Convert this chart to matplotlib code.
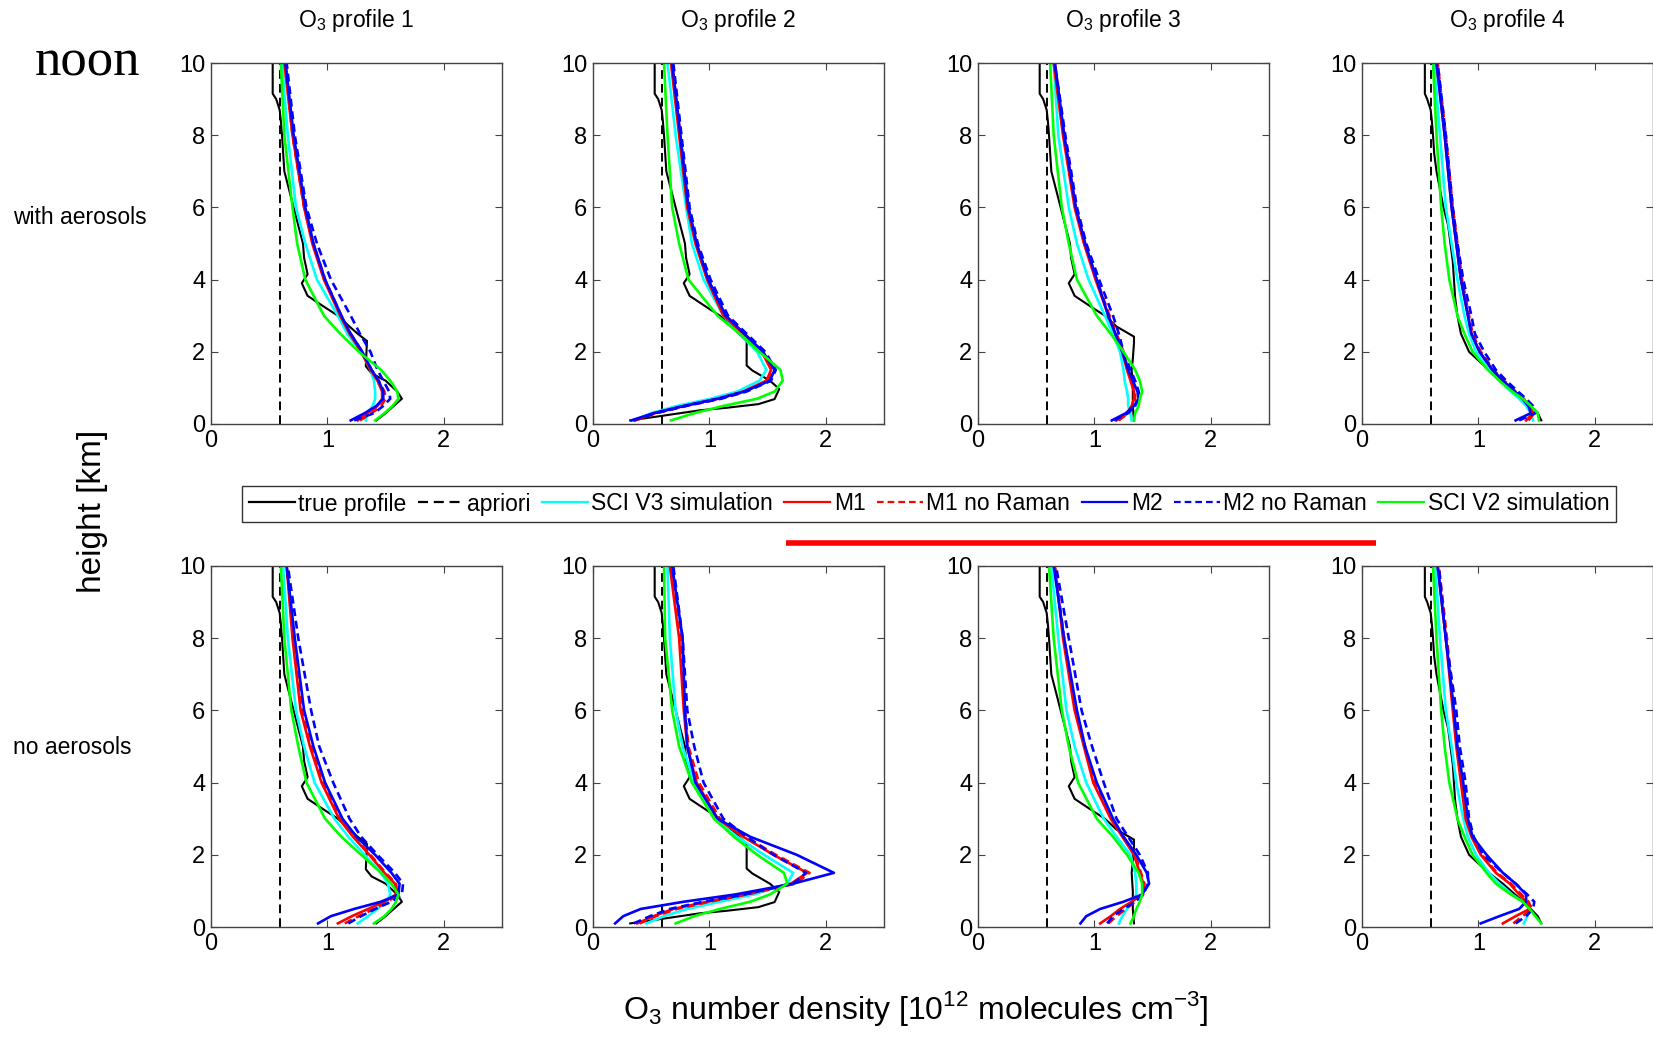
import matplotlib
matplotlib.use('Agg')
import matplotlib.pyplot as plt
from matplotlib.lines import Line2D

plt.rcParams['font.family'] = ['Liberation Sans', 'DejaVu Sans']
plt.rcParams['mathtext.fontset'] = 'custom'
plt.rcParams['mathtext.rm'] = 'Liberation Sans'

# height grid (km) for the retrieved profiles
hgt = [0.1, 0.3, 0.5, 0.7, 0.9, 1.2, 1.5, 2.0, 2.5, 3.0, 4.0, 5.0, 6.0, 8.0, 10.0]
apriori = 0.59
profiles = ['1', '2', '3', '4']
rows = ['with aerosols', 'no aerosols']

# true profiles, same for both rows
true_upper_h = [10.0, 9.15, 9.0, 8.7, 8.4, 8.0, 7.5, 7.0, 6.5, 6.0, 5.5, 5.0, 4.6, 4.15, 3.9, 3.55, 3.25, 3.0]
true_upper_x = [0.53, 0.53, 0.56, 0.59, 0.60, 0.61, 0.62, 0.63, 0.67, 0.71, 0.75, 0.79, 0.80, 0.83, 0.78, 0.83, 0.97, 1.09]
true_low_h = [
    [2.7, 2.5, 2.3, 1.6, 1.4, 1.2, 0.9, 0.7, 0.5, 0.3, 0.1],
    [2.7, 2.3, 1.62, 1.48, 1.2, 0.97, 0.69, 0.55, 0.45, 0.38, 0.22, 0.1],
    [2.7, 2.42, 2.24, 1.8, 1.5, 1.0, 0.5, 0.1],
]
true_low_x = [
    [1.19, 1.26, 1.34, 1.33, 1.38, 1.50, 1.60, 1.64, 1.57, 1.50, 1.42],
    [1.19, 1.32, 1.32, 1.37, 1.52, 1.60, 1.56, 1.42, 1.15, 0.92, 0.58, 0.32],
    [1.19, 1.34, 1.34, 1.33, 1.32, 1.33, 1.33, 1.34],
]
true4_h = [10.0, 9.15, 9.0, 8.7, 8.4, 8.0, 7.5, 7.0, 6.5, 6.0, 5.5, 5.0, 4.5, 4.0, 3.5, 3.0, 2.5, 2.0, 1.7, 1.5, 1.2, 0.8, 0.5, 0.3, 0.1]
true4_x = [0.54, 0.54, 0.56, 0.59, 0.60, 0.61, 0.62, 0.64, 0.67, 0.70, 0.74, 0.76, 0.78, 0.79, 0.80, 0.82, 0.85, 0.92, 1.02, 1.09, 1.21, 1.35, 1.45, 1.51, 1.54]

# with aerosols
sciv3_aer = [
    [1.33, 1.34, 1.39, 1.41, 1.41, 1.40, 1.37, 1.29, 1.17, 1.09, 0.91, 0.81, 0.73, 0.66, 0.61],
    [0.36, 0.50, 0.72, 1.01, 1.24, 1.43, 1.49, 1.41, 1.26, 1.12, 0.95, 0.85, 0.80, 0.71, 0.64],
    [1.32, 1.31, 1.29, 1.29, 1.28, 1.26, 1.25, 1.22, 1.16, 1.09, 0.95, 0.85, 0.78, 0.69, 0.65],
    [1.47, 1.45, 1.41, 1.35, 1.28, 1.18, 1.09, 0.98, 0.92, 0.88, 0.82, 0.77, 0.72, 0.67, 0.62],
]
m1_aer = [
    [1.26, 1.34, 1.43, 1.47, 1.47, 1.43, 1.37, 1.29, 1.19, 1.11, 0.97, 0.87, 0.80, 0.70, 0.63],
    [0.36, 0.53, 0.78, 1.07, 1.29, 1.49, 1.53, 1.45, 1.29, 1.12, 0.98, 0.88, 0.81, 0.74, 0.67],
    [1.19, 1.28, 1.32, 1.34, 1.34, 1.31, 1.28, 1.24, 1.18, 1.12, 1.01, 0.91, 0.83, 0.73, 0.65],
    [1.41, 1.47, 1.43, 1.38, 1.31, 1.21, 1.12, 1.01, 0.94, 0.91, 0.85, 0.81, 0.77, 0.71, 0.64],
]
m1nr_aer = [
    [1.28, 1.38, 1.46, 1.50, 1.49, 1.44, 1.38, 1.30, 1.20, 1.12, 0.98, 0.88, 0.80, 0.70, 0.64],
    [0.36, 0.54, 0.80, 1.09, 1.31, 1.50, 1.54, 1.46, 1.30, 1.14, 0.99, 0.89, 0.82, 0.75, 0.68],
    [1.21, 1.29, 1.33, 1.35, 1.35, 1.32, 1.29, 1.25, 1.19, 1.13, 1.02, 0.92, 0.84, 0.74, 0.66],
    [1.43, 1.48, 1.44, 1.39, 1.32, 1.22, 1.13, 1.02, 0.95, 0.92, 0.86, 0.82, 0.78, 0.72, 0.65],
]
m2_aer = [
    [1.20, 1.32, 1.42, 1.48, 1.48, 1.44, 1.38, 1.30, 1.20, 1.12, 0.98, 0.88, 0.81, 0.71, 0.64],
    [0.33, 0.52, 0.78, 1.07, 1.30, 1.52, 1.56, 1.46, 1.30, 1.14, 0.99, 0.89, 0.82, 0.75, 0.68],
    [1.15, 1.27, 1.34, 1.38, 1.37, 1.33, 1.29, 1.24, 1.18, 1.12, 1.02, 0.92, 0.84, 0.74, 0.66],
    [1.32, 1.45, 1.43, 1.38, 1.31, 1.21, 1.12, 1.01, 0.94, 0.91, 0.85, 0.81, 0.77, 0.71, 0.64],
]
m2nr_aer = [
    [1.23, 1.40, 1.48, 1.54, 1.53, 1.48, 1.43, 1.37, 1.28, 1.20, 1.03, 0.91, 0.82, 0.72, 0.65],
    [0.34, 0.54, 0.80, 1.10, 1.32, 1.53, 1.57, 1.48, 1.32, 1.16, 1.01, 0.90, 0.83, 0.76, 0.69],
    [1.17, 1.29, 1.35, 1.38, 1.38, 1.35, 1.31, 1.25, 1.21, 1.16, 1.04, 0.93, 0.85, 0.75, 0.66],
    [1.35, 1.49, 1.47, 1.41, 1.34, 1.24, 1.15, 1.05, 0.97, 0.94, 0.87, 0.82, 0.78, 0.72, 0.65],
]
sciv2_aer = [
    [1.41, 1.49, 1.56, 1.61, 1.60, 1.54, 1.46, 1.27, 1.11, 0.97, 0.81, 0.74, 0.70, 0.63, 0.60],
    [0.67, 0.87, 1.12, 1.41, 1.56, 1.63, 1.61, 1.43, 1.26, 1.07, 0.82, 0.74, 0.68, 0.64, 0.61],
    [1.34, 1.35, 1.38, 1.39, 1.41, 1.39, 1.35, 1.25, 1.14, 1.02, 0.85, 0.78, 0.72, 0.65, 0.62],
    [1.52, 1.51, 1.45, 1.38, 1.29, 1.18, 1.08, 0.95, 0.88, 0.82, 0.75, 0.71, 0.68, 0.64, 0.61],
]

# no aerosols
sciv3_noaer = [
    [1.26, 1.35, 1.43, 1.51, 1.54, 1.52, 1.46, 1.32, 1.18, 1.06, 0.89, 0.80, 0.73, 0.66, 0.62],
    [0.46, 0.61, 0.81, 1.09, 1.38, 1.67, 1.72, 1.47, 1.24, 1.04, 0.87, 0.77, 0.71, 0.66, 0.64],
    [1.21, 1.24, 1.28, 1.32, 1.36, 1.36, 1.35, 1.31, 1.19, 1.08, 0.93, 0.83, 0.76, 0.69, 0.63],
    [1.39, 1.42, 1.44, 1.38, 1.29, 1.18, 1.09, 0.98, 0.91, 0.87, 0.81, 0.77, 0.72, 0.67, 0.63],
]
m1_noaer = [
    [1.09, 1.21, 1.35, 1.49, 1.59, 1.58, 1.49, 1.36, 1.22, 1.10, 0.95, 0.85, 0.77, 0.70, 0.65],
    [0.38, 0.52, 0.69, 0.98, 1.30, 1.70, 1.84, 1.55, 1.29, 1.07, 0.89, 0.81, 0.78, 0.74, 0.66],
    [1.05, 1.14, 1.22, 1.32, 1.41, 1.42, 1.39, 1.34, 1.24, 1.14, 0.99, 0.91, 0.83, 0.73, 0.66],
    [1.21, 1.32, 1.44, 1.41, 1.35, 1.27, 1.15, 1.02, 0.94, 0.89, 0.85, 0.81, 0.78, 0.72, 0.65],
]
m1nr_noaer = [
    [1.15, 1.27, 1.40, 1.52, 1.60, 1.59, 1.50, 1.37, 1.23, 1.11, 0.96, 0.86, 0.78, 0.71, 0.65],
    [0.40, 0.54, 0.72, 1.00, 1.32, 1.74, 1.86, 1.57, 1.31, 1.09, 0.91, 0.82, 0.79, 0.75, 0.67],
    [1.12, 1.19, 1.27, 1.35, 1.42, 1.43, 1.40, 1.35, 1.25, 1.15, 1.00, 0.92, 0.84, 0.74, 0.66],
    [1.30, 1.38, 1.46, 1.43, 1.37, 1.28, 1.16, 1.03, 0.95, 0.90, 0.86, 0.82, 0.79, 0.73, 0.66],
]
m2_noaer = [
    [0.92, 1.03, 1.23, 1.46, 1.61, 1.62, 1.55, 1.41, 1.25, 1.13, 0.98, 0.88, 0.80, 0.72, 0.65],
    [0.19, 0.26, 0.41, 0.78, 1.22, 1.72, 2.07, 1.75, 1.35, 1.07, 0.88, 0.81, 0.79, 0.77, 0.68],
    [0.88, 0.93, 1.05, 1.25, 1.41, 1.47, 1.45, 1.36, 1.25, 1.16, 1.02, 0.92, 0.85, 0.74, 0.65],
    [1.02, 1.18, 1.35, 1.41, 1.41, 1.32, 1.21, 1.07, 0.95, 0.91, 0.87, 0.82, 0.79, 0.72, 0.65],
]
m2nr_noaer = [
    [1.18, 1.29, 1.41, 1.55, 1.64, 1.65, 1.58, 1.43, 1.29, 1.19, 1.05, 0.93, 0.86, 0.75, 0.66],
    [0.35, 0.49, 0.66, 0.95, 1.30, 1.72, 1.83, 1.55, 1.32, 1.12, 0.95, 0.87, 0.81, 0.77, 0.69],
    [1.11, 1.16, 1.25, 1.35, 1.42, 1.46, 1.46, 1.39, 1.29, 1.19, 1.08, 0.98, 0.89, 0.78, 0.67],
    [1.32, 1.41, 1.47, 1.48, 1.42, 1.32, 1.21, 1.04, 0.96, 0.92, 0.89, 0.84, 0.81, 0.72, 0.66],
]
sciv2_noaer = [
    [1.40, 1.49, 1.55, 1.59, 1.61, 1.55, 1.46, 1.29, 1.12, 0.98, 0.82, 0.75, 0.69, 0.63, 0.60],
    [0.71, 0.87, 1.09, 1.35, 1.52, 1.67, 1.64, 1.41, 1.21, 1.04, 0.85, 0.74, 0.68, 0.62, 0.61],
    [1.31, 1.34, 1.36, 1.39, 1.41, 1.41, 1.38, 1.28, 1.16, 1.02, 0.86, 0.78, 0.72, 0.65, 0.61],
    [1.54, 1.49, 1.44, 1.38, 1.28, 1.15, 1.07, 0.95, 0.88, 0.82, 0.75, 0.71, 0.68, 0.64, 0.61],
]

black_dash = (0, (4.5, 2.6))
col_dash = (0, (3.0, 1.8))
styles = [
    ('true profile', 'black', '-'),
    ('apriori', 'black', black_dash),
    ('SCI V3 simulation', '#00ffff', '-'),
    ('M1', '#ff0000', '-'),
    ('M1 no Raman', '#ff0000', col_dash),
    ('M2', '#0000ff', '-'),
    ('M2 no Raman', '#0000ff', col_dash),
    ('SCI V2 simulation', '#00ff00', '-'),
]
data_rows = [
    [sciv3_aer, m1_aer, m1nr_aer, m2_aer, m2nr_aer, sciv2_aer],
    [sciv3_noaer, m1_noaer, m1nr_noaer, m2_noaer, m2nr_noaer, sciv2_noaer],
]

W, H = 1653, 1038
fig = plt.figure(figsize=(W / 100, H / 100), dpi=100)
col_left = [211, 593, 978, 1362]
row_top = [63, 566]
ax_w, ax_h = 291, 361
spine_col = '#444444'

for r in range(2):
    for c in range(4):
        ax = fig.add_axes([col_left[c] / W, 1 - (row_top[r] + ax_h) / H, ax_w / W, ax_h / H])
        if c < 3:
            th = true_upper_h + true_low_h[c]
            tx = true_upper_x + true_low_x[c]
        else:
            th, tx = true4_h, true4_x
        ax.plot(tx, th, color='black', lw=1.5)
        ax.plot([apriori, apriori], [0, 10], color='black', lw=1.4, ls=black_dash)
        for (lab, col, ls), vals in zip(styles[2:], data_rows[r]):
            ax.plot(vals[c], hgt, color=col, ls=ls, lw=1.9)
        ax.set_xlim(0, 2.5)
        ax.set_ylim(0, 10)
        ax.set_xticks([0, 1, 2])
        ax.set_yticks([0, 2, 4, 6, 8, 10])
        ax.tick_params(direction='in', top=True, right=True, length=5, width=0.8,
                       color=spine_col, labelsize=17, pad=4)
        for sp in ax.spines.values():
            sp.set_color(spine_col)
            sp.set_linewidth(1.0)
        if r == 0:
            fig.text((col_left[c] + ax_w / 2) / W, 1 - 21 / H, 'O$_3$ profile ' + profiles[c],
                     ha='center', va='center', fontsize=16.5)

handles = [Line2D([], [], color=col, ls=ls, lw=1.6) for lab, col, ls in styles]
labels = [lab for lab, col, ls in styles]
leg = fig.legend(handles, labels, loc='center', bbox_to_anchor=(929 / W, 1 - 504 / H), ncol=8,
                 frameon=True, fancybox=False, edgecolor='black', fontsize=16.5,
                 handlelength=2.0, handletextpad=0.15, columnspacing=0.5, borderpad=0.3,
                 borderaxespad=0)
leg.get_frame().set_linewidth(1.0)

fig.add_artist(Line2D([786 / W, 1376 / W], [1 - 543 / H, 1 - 543 / H], color='red', lw=4,
                      solid_capstyle='butt'))

fig.text(88 / W, 1 - 62 / H, 'noon', family='Liberation Serif', fontsize=38, ha='center', va='center')
fig.text(13 / W, 1 - 218 / H, rows[0], fontsize=16.5, ha='left', va='center')
fig.text(13 / W, 1 - 748 / H, rows[1], fontsize=16.5, ha='left', va='center')
fig.text(93 / W, 1 - 511 / H, 'height [km]', rotation=90, fontsize=24, ha='center', va='center')
fig.text(916 / W, 1 - 1008 / H, 'O$_3$ number density [10$^{12}$ molecules cm$^{-3}$]',
         fontsize=23, ha='center', va='center')

fig.savefig('out.png', dpi=100)
